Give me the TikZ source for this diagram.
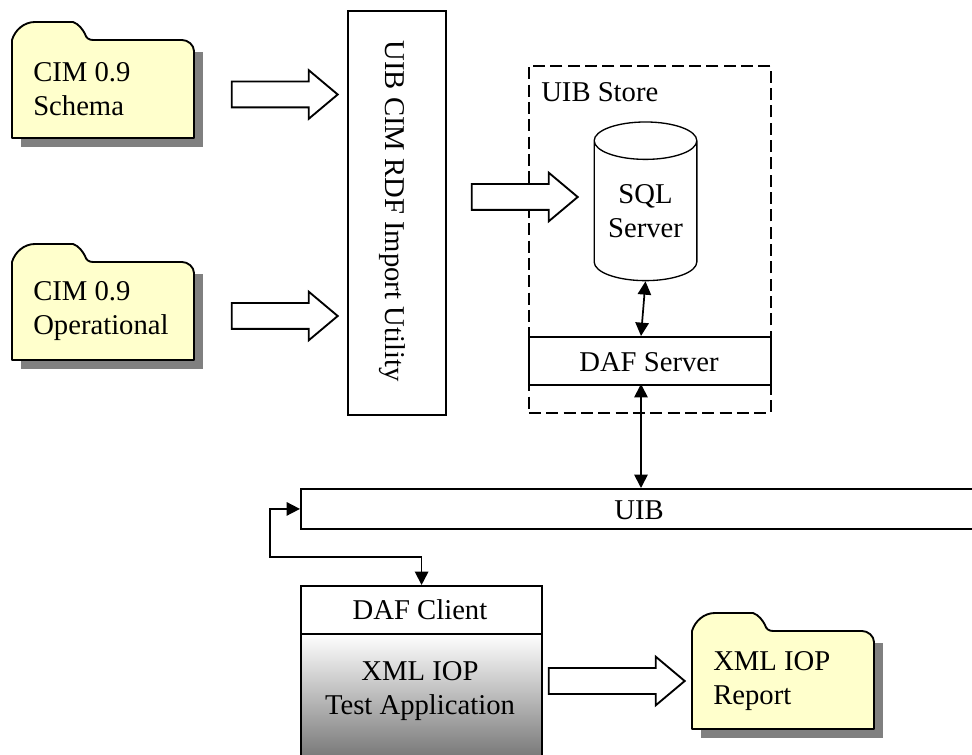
\documentclass[tikz,border=0pt]{standalone}
\usepackage{fontspec}
\setmainfont{Liberation Serif}
\usetikzlibrary{positioning,calc,arrows.meta,shapes.geometric,shapes.arrows}
\definecolor{folderfill}{RGB}{255,255,204}
\definecolor{foldershadow}{RGB}{128,128,128}
\definecolor{appshade}{RGB}{105,105,105}
\tikzset{
  lbl/.style={font=\fontsize{21.5}{26}\selectfont,align=left,inner sep=0pt},
  clbl/.style={font=\fontsize{21.5}{26}\selectfont,align=center,inner sep=0pt},
  bigarrow/.style={draw,line width=1.4pt,fill=white,single arrow,inner sep=0pt,single arrow tip angle=80,
    minimum height=79.5pt,text height=18pt,text depth=0pt,single arrow head extend=8.5pt},
  box/.style={draw,line width=1.4pt,inner sep=0pt,anchor=north west},
  link/.style={{Triangle[length=10pt,width=10pt]}-{Triangle[length=10pt,width=10pt]},line width=1.3pt}
}
\begin{document}
\begin{tikzpicture}[x=0.75pt,y=-0.75pt]
  \useasboundingbox (0,0) rectangle (972,755);

  % folders
  \foreach \fx/\fy in {12/22,12/244,692/613}{
    \fill[foldershadow] ($(\fx,\fy)+(9,30)$) rectangle ($(\fx,\fy)+(191,125)$);
    \draw[line width=1.4pt,fill=folderfill,line join=round] (\fx,\fy+116)
      -- (\fx,\fy+18) .. controls (\fx+3,\fy+8) and (\fx+12,\fy) .. (\fx+23,\fy)
      -- (\fx+61,\fy) .. controls (\fx+67,\fy+2) and (\fx+71,\fy+8) .. (\fx+73,\fy+12)
      .. controls (\fx+74,\fy+16) and (\fx+77,\fy+18) .. (\fx+81,\fy+18)
      -- (\fx+170,\fy+18) .. controls (\fx+176,\fy+18) and (\fx+182,\fy+23) .. (\fx+182,\fy+29)
      -- (\fx+182,\fy+116) -- cycle;
  }
  \node[lbl,anchor=west] (schema) at (33,89) {CIM 0.9\\Schema};
  \node[lbl,anchor=west] (oper) at (33,311) {CIM 0.9\\Operational};
  \node[lbl,anchor=west] (report) at (713,681) {XML IOP\\Report};

  % import utility
  \node[box,minimum width=73.5pt,minimum height=303pt] (util) at (347,10) {};
  \node[clbl,rotate=-90] (utiltxt) at (392,211) {UIB CIM RDF Import Utility};

  % store
  \node[box,dashed,dash pattern=on 9pt off 4pt,minimum width=181.5pt,minimum height=260pt] (store) at (528,65) {};
  \node[lbl,anchor=west] (storetxt) at (541,92) {UIB Store};
  \node[cylinder,draw,clbl,line width=1pt,shape border rotate=90,aspect=.5,
    minimum width=77pt,minimum height=119pt] (sql) at (645.5,211) {SQL\\Server};
  \node[box,fill=white,minimum width=181.5pt,minimum height=36pt] (daf) at (528,336) {};
  \node[clbl] (daftxt) at (649,362) {DAF Server};

  % bus
  \node[box,minimum width=504pt,minimum height=30pt] (uib) at (300,488) {};
  \node[clbl] (uibtxt) at (639,510) {UIB};

  % client
  \node[box,top color=white,bottom color=appshade,minimum width=181pt,minimum height=103pt] (app) at (300,633) {};
  \node[box,minimum width=181pt,minimum height=36pt] (client) at (300,585) {};
  \node[clbl] (clienttxt) at (420,610) {DAF Client};
  \node[clbl] (apptxt) at (420,691) {XML IOP\\Test Application};

  % big arrows
  \node[bigarrow] (a1) at (277,94.5) {};
  \node[bigarrow] (a2) at (277,316) {};
  \node[bigarrow] (a3) at (517,197) {};
  \node[bigarrow,minimum height=102pt] (a4) at (609,681) {};

  % links
  \coordinate (dafin) at (641,336);
  \coordinate (dafout) at (641,384);
  \coordinate (uibin) at (641,488);
  \draw[link] (sql.south) -- (dafin);
  \draw[link] (dafout) -- (uibin);
  \draw[link] (uib.west) -| ++(-30,48) -| (client.north);
\end{tikzpicture}
\end{document}
